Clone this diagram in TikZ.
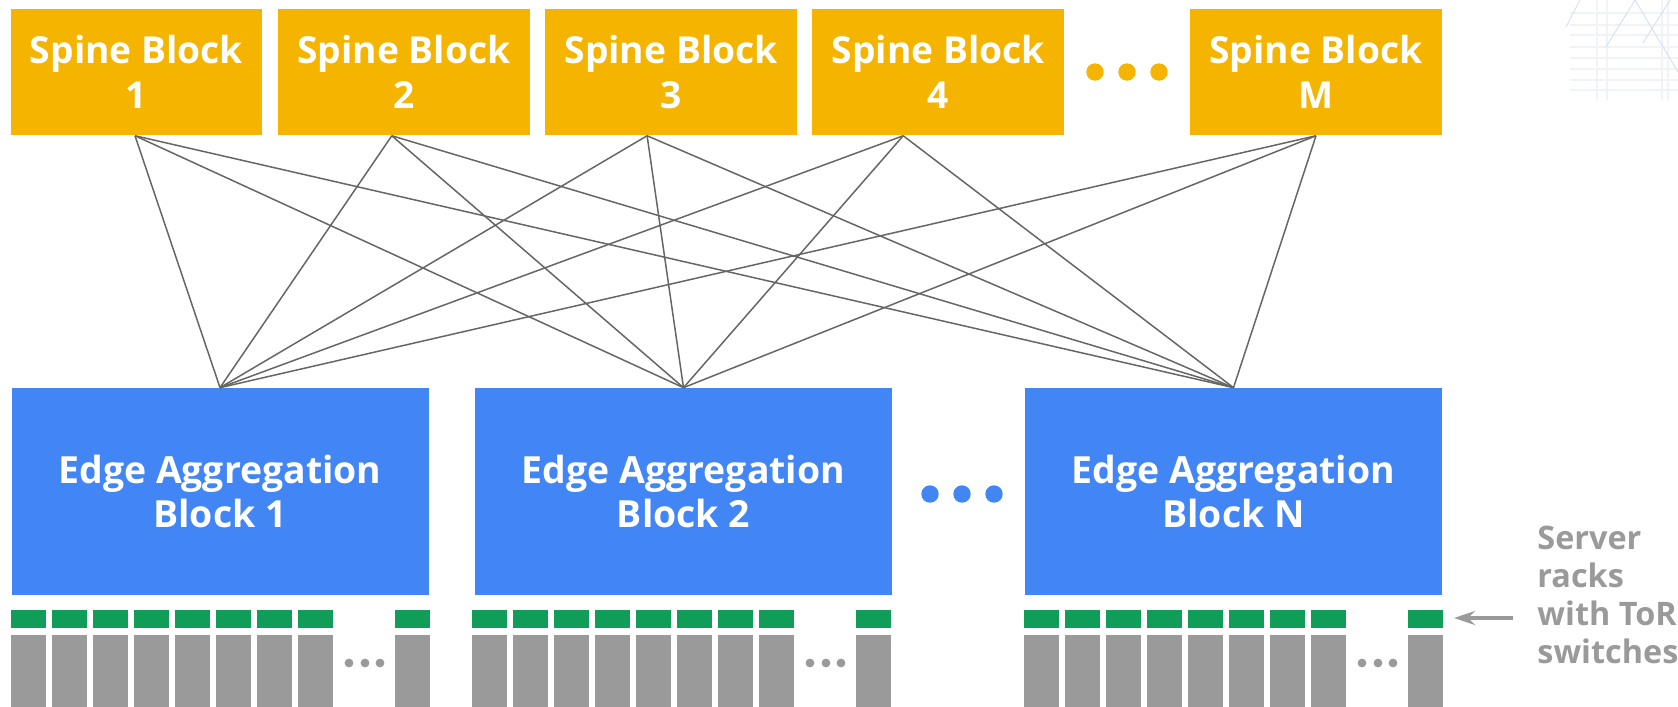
\documentclass[tikz,border=0pt]{standalone}
\usepackage{fontspec}
\setmainfont{Open Sans}
\usetikzlibrary{arrows.meta}
\definecolor{gyellow}{HTML}{F4B400}
\definecolor{gblue}{HTML}{4285F4}
\definecolor{ggreen}{HTML}{0F9D58}
\definecolor{rackgray}{HTML}{9A9A9A}
\definecolor{linegray}{HTML}{666666}
\definecolor{bgline}{HTML}{F0F4F9}
\definecolor{bgtri}{HTML}{D8E2EC}
\begin{document}
\begin{tikzpicture}[x=0.5pt,y=-0.5pt,
  spinebox/.style={fill=gyellow, text=white, font=\bfseries\fontsize{18.6}{22.2}\selectfont, align=center, minimum width=125.75pt, minimum height=63.35pt, inner sep=0pt},
  edgebox/.style={fill=gblue, text=white, font=\bfseries\fontsize{18.7}{21.8}\selectfont, align=center, minimum width=208.5pt, minimum height=103.35pt, inner sep=0pt},
  link/.style={draw=linegray, line width=0.75pt},
  ydot/.style={fill=gyellow},
  bdot/.style={fill=gblue},
  gdot/.style={fill=rackgray},
  torbox/.style={fill=ggreen},
  rackbox/.style={fill=rackgray},
  torarrow/.style={draw=rackgray, line width=1.7pt, -{Stealth[length=10.5pt, width=7pt, inset=3.5pt]}},
  serverlbl/.style={text=rackgray, font=\bfseries\fontsize{16.2}{18.9}\selectfont, align=left, inner sep=0pt},
  bgl/.style={draw=bgline, line width=0.6pt},
  bgt/.style={draw=bgtri, line width=0.5pt}
]
\useasboundingbox (0,0) rectangle (1678,707);

% faint background decoration (top right)
\foreach \yy in {13,25,35,47,58,69,80,90}
  \draw[bgl] (1570,\yy) -- (1678,\yy);
\foreach \xx in {1597,1607,1662,1668}
  \draw[bgl] (\xx,0) -- (\xx,100);
\draw[bgt] (1580,0) -- (1566,27);
\draw[bgt] (1635,0) -- (1606,47);
\draw[bgt] (1635,0) -- (1678,72);
\draw[bgt] (1670,0) -- (1643,43);

% spine blocks
\node[spinebox] (s1) at (136.5,72) {Spine Block\\1};
\node[spinebox] (s2) at (403.8,72) {Spine Block\\2};
\node[spinebox] (s3) at (671.1,72) {Spine Block\\3};
\node[spinebox] (s4) at (938.2,72) {Spine Block\\4};
\node[spinebox] (sm) at (1316,72) {Spine Block\\M};
\foreach \xx in {1095,1127,1159}
  \fill[ydot] (\xx,72) circle (4.35pt);

% edge aggregation blocks
\node[edgebox] (e1) at (220,491.4) {Edge Aggregation\\Block 1};
\node[edgebox] (e2) at (683.5,491.4) {Edge Aggregation\\Block 2};
\node[edgebox] (en) at (1233.5,491.4) {Edge Aggregation\\Block N};
\foreach \xx in {930,962,994}
  \fill[bdot] (\xx,494) circle (4.35pt);

% attachment points on spine blocks
\coordinate (p1) at ([xshift=-0.75pt]s1.south);
\coordinate (p2) at ([xshift=-6pt]s2.south);
\coordinate (p3) at ([xshift=-12pt]s3.south);
\coordinate (p4) at ([xshift=-17.5pt]s4.south);
\coordinate (pm) at (sm.south);

% links
\foreach \s in {p1,p2,p3,p4,pm}
  \foreach \e in {e1,e2,en}
    \draw[link] (\s) -- (\e.north);

% server racks with ToR switches
\foreach \bx in {11,472,1024} {
  \foreach \k in {0,...,7} {
    \fill[torbox] (\bx+41*\k,610) rectangle ++(35,18);
    \fill[rackbox] (\bx+41*\k,635) rectangle ++(35,72);
  }
  \fill[torbox] (\bx+384,610) rectangle ++(35,18);
  \fill[rackbox] (\bx+384,635) rectangle ++(35,72);
  \foreach \d in {338,354,369}
    \fill[gdot] (\bx+\d,663) circle (2.2pt);
}

% label and arrow
\node[serverlbl, anchor=north west] (lbl) at (1537,526) {Server\\racks\\with ToR\\switches};
\coordinate (arrS) at (1513,618);
\coordinate (arrE) at (1454,618);
\draw[torarrow] (arrS) -- (arrE);
\end{tikzpicture}
\end{document}
